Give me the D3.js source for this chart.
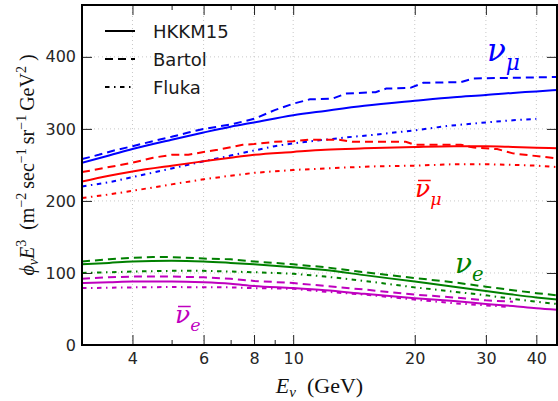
<!DOCTYPE html>
<html>
<head>
<meta charset="utf-8">
<script src="https://cdn.jsdelivr.net/npm/d3@7"></script>
<style>
  html, body { margin: 0; padding: 0; background: #fff; }
  svg { display: block; }
</style>
</head>
<body>
<svg id="chart" width="558" height="401"></svg>
<script>
// Atmospheric neutrino flux (E^3-weighted) versus neutrino energy,
// three flux models for each of four neutrino flavours.

const energies = {
  hkkm: [3, 3.5, 4, 5, 6, 7, 8, 10, 12, 15, 20, 25, 30, 35, 40, 45],
  fluka: [3, 3.5, 4, 5, 6, 7, 8, 9, 10, 12, 14, 16, 20, 24, 30, 35, 40]
};

// nu_mu (blue)
const numuHKKM = [253, 263, 272, 285, 295, 303, 309, 319, 325, 332, 339, 344, 347, 350, 352, 354];
const numuBartolE = [3, 3.3, 3.6, 4, 4.5, 5, 5.5, 6, 7, 8, 9, 10, 11, 12.5, 13.5, 16, 17, 19.5, 21, 26, 28, 45];
const numuBartol = [258, 264, 270, 276, 283, 289, 295, 300, 306, 314, 326, 335, 341, 342, 349, 351, 356, 357, 364, 365, 370, 372];
const numuFluka = [220, 226, 233, 245, 255, 263, 270, 276, 280, 285, 289, 292, 298, 304, 309, 312, 314];

// anti-nu_mu (red)
const anumuHKKM = [227, 235, 241, 249, 255, 260, 264, 268, 271, 273, 275, 276, 276, 275, 274, 273];
const anumuBartolE = [3, 3.5, 4, 4.5, 5, 5.5, 6, 6.5, 7.5, 8, 9, 10, 11, 13, 14, 16, 19, 20, 26, 28, 32, 35, 45];
const anumuBartol = [240, 247, 253, 260, 264, 264, 268, 271, 278, 279, 282, 283, 285, 285, 282, 282, 282, 278, 278, 274, 272, 266, 259];
const anumuFlukaE = [3, 3.5, 4, 5, 6, 7, 8, 10, 13, 16, 20, 25, 30, 35, 40, 45];
const anumuFluka = [204, 209, 214, 223, 230, 235, 239, 243, 246, 248, 249, 251, 251, 250, 249, 247];

// nu_e (green)
const nueHKKM = [112, 114, 116, 117, 116, 114, 112, 108, 104, 97, 88, 81, 75, 70, 66, 63];
const nueBartolE = [3, 3.5, 4, 4.5, 5, 6, 7, 8, 10, 12, 15, 20, 25, 30, 35, 40, 45];
const nueBartol = [116, 119, 121, 122, 122, 120, 119, 116, 112, 108, 101, 93, 87, 81, 76, 72, 69];
const nueFlukaE = [3, 3.5, 4, 5, 6, 7, 8, 10, 12, 15, 20, 25, 30, 35, 40, 45];
const nueFluka = [100, 101, 102, 103, 103, 102, 101, 99, 95, 89, 80, 74, 69, 64, 60, 57];

// anti-nu_e (magenta)
const anueHKKM = [86, 87, 88, 88, 87, 85, 82, 79, 76, 71, 65, 61, 57, 54, 51, 49];
const anueBartolE = [3, 3.5, 4, 5, 6, 7, 8, 10, 12, 15, 20, 25, 30, 35];
const anueBartol = [92, 94, 95, 95, 94, 92, 89, 86, 82, 77, 70, 66, 62, 60];
const anueFlukaE = [3, 4, 5, 6, 7, 8, 10, 12, 15, 20, 25, 30, 34];
const anueFluka = [79, 80, 80.5, 80, 80, 79, 78, 74, 70, 63, 58, 55, 53];

const xTicks = [4, 6, 8, 10, 20, 30, 40];
const xMinorTicks = [3, 5, 7, 9];
const yTicks = [0, 100, 200, 300, 400];
const models = ["HKKM15", "Bartol", "Fluka"];

const colors = { numu: "#0000ff", anumu: "#ff0000", nue: "#008000", anue: "#bf00bf" };
const dashes = { HKKM15: null, Bartol: "8,5", Fluka: "4.5,4.5,1.5,4.5" };

const series = [
  { flav: "numu", model: "HKKM15", e: energies.hkkm, v: numuHKKM },
  { flav: "numu", model: "Bartol", e: numuBartolE, v: numuBartol },
  { flav: "numu", model: "Fluka", e: energies.fluka, v: numuFluka },
  { flav: "anumu", model: "HKKM15", e: energies.hkkm, v: anumuHKKM },
  { flav: "anumu", model: "Bartol", e: anumuBartolE, v: anumuBartol },
  { flav: "anumu", model: "Fluka", e: anumuFlukaE, v: anumuFluka },
  { flav: "nue", model: "HKKM15", e: energies.hkkm, v: nueHKKM },
  { flav: "nue", model: "Bartol", e: nueBartolE, v: nueBartol },
  { flav: "nue", model: "Fluka", e: nueFlukaE, v: nueFluka },
  { flav: "anue", model: "HKKM15", e: energies.hkkm, v: anueHKKM },
  { flav: "anue", model: "Bartol", e: anueBartolE, v: anueBartol },
  { flav: "anue", model: "Fluka", e: anueFlukaE, v: anueFluka }
];

const W = 558, H = 401;
const margin = { left: 82, right: 1, top: 5, bottom: 56 };
const x0 = margin.left, x1 = W - margin.right, y0 = H - margin.bottom, y1 = margin.top;

const x = d3.scaleLog().domain([3, 45]).range([x0, x1]);
const y = d3.scaleLinear().domain([0, 472]).range([y0, y1]);

const svg = d3.select("#chart");

svg.append("defs").append("clipPath").attr("id", "plotclip")
  .append("rect").attr("x", x0).attr("y", y1).attr("width", x1 - x0).attr("height", y0 - y1);

// grid
const grid = svg.append("g").attr("stroke", "#c8c8c8").attr("stroke-width", 1).attr("stroke-dasharray", "1,3");
grid.selectAll("line.gx").data(xTicks).join("line")
  .attr("x1", d => x(d)).attr("x2", d => x(d)).attr("y1", y0).attr("y2", y1);
grid.selectAll("line.gy").data(yTicks).join("line")
  .attr("y1", d => y(d)).attr("y2", d => y(d)).attr("x1", x0).attr("x2", x1);

// curves
const line = d3.line().x(d => x(d[0])).y(d => y(d[1]));
const curves = svg.append("g").attr("clip-path", "url(#plotclip)");
series.forEach(s => {
  const pts = s.e.map((e, i) => [e, s.v[i]]);
  curves.append("path")
    .datum(pts)
    .attr("d", s.model === "HKKM15" ? line.curve(d3.curveMonotoneX)(pts) : line.curve(d3.curveLinear)(pts))
    .attr("fill", "none")
    .attr("stroke", colors[s.flav])
    .attr("stroke-width", 2)
    .attr("stroke-dasharray", dashes[s.model]);
});

// axes with inward ticks
const tickFont = "'DejaVu Sans', sans-serif";
const fmt = d3.format("d");
const axB = svg.append("g").attr("transform", `translate(0,${y0})`)
  .call(d3.axisBottom(x).tickValues(xTicks).tickFormat(fmt).tickSizeInner(-10).tickSizeOuter(0).tickPadding(8));
const axT = svg.append("g").attr("transform", `translate(0,${y1})`)
  .call(d3.axisTop(x).tickValues(xTicks).tickFormat("").tickSizeInner(-10).tickSizeOuter(0));
const axL = svg.append("g").attr("transform", `translate(${x0},0)`)
  .call(d3.axisLeft(y).tickValues(yTicks).tickFormat(fmt).tickSizeInner(-10).tickSizeOuter(0).tickPadding(6));
const axR = svg.append("g").attr("transform", `translate(${x1},0)`)
  .call(d3.axisRight(y).tickValues(yTicks).tickFormat("").tickSizeInner(-10).tickSizeOuter(0));
const mB = svg.append("g").attr("transform", `translate(0,${y0})`)
  .call(d3.axisBottom(x).tickValues(xMinorTicks).tickFormat("").tickSizeInner(-5).tickSizeOuter(0));
const mT = svg.append("g").attr("transform", `translate(0,${y1})`)
  .call(d3.axisTop(x).tickValues(xMinorTicks).tickFormat("").tickSizeInner(-5).tickSizeOuter(0));
[axB, axT, axL, axR, mB, mT].forEach(g => {
  g.select(".domain").remove();
  g.selectAll(".tick line").attr("stroke", "#222").attr("stroke-width", 1);
  g.selectAll(".tick text").attr("font-family", tickFont).attr("font-size", 16).attr("fill", "#262626");
});

// frame
svg.append("rect").attr("x", x0).attr("y", y1).attr("width", x1 - x0).attr("height", y0 - y1)
  .attr("fill", "none").attr("stroke", "#000").attr("stroke-width", 2);

// legend
const leg = svg.append("g");
models.forEach((m, i) => {
  const ly = 31 + i * 28;
  leg.append("line").attr("x1", 105).attr("x2", 135).attr("y1", ly).attr("y2", ly)
    .attr("stroke", "#000").attr("stroke-width", 2).attr("stroke-dasharray", dashes[m]);
  leg.append("text").attr("x", 153).attr("y", ly + 6.5).text(m)
    .attr("font-family", tickFont).attr("font-size", 18).attr("fill", "#1a1a1a");
});

// flavour labels (nu with subscript, optional overbar for antineutrinos)
const mathFont = "'DejaVu Serif', serif";
function flavLabel(px, py, size, color, sub, bar) {
  const t = svg.append("text").attr("x", px).attr("y", py)
    .attr("font-family", mathFont).attr("font-style", "italic").attr("font-size", size).attr("fill", color);
  t.append("tspan").text("\u03BD");
  t.append("tspan").attr("dy", size * 0.3).attr("font-size", size * 0.7).text(sub);
  if (bar) {
    const nuBox = t.node().getExtentOfChar(0);
    const by = py - size * 0.66;
    svg.append("line")
      .attr("x1", nuBox.x + size * 0.12).attr("x2", nuBox.x + nuBox.width + size * 0.02)
      .attr("y1", by).attr("y2", by)
      .attr("stroke", color).attr("stroke-width", Math.max(1.5, size * 0.06));
  }
}
flavLabel(487, 61, 31, colors.numu, "\u03BC", false);
flavLabel(415, 197, 25, colors.anumu, "\u03BC", true);
flavLabel(455, 273, 28, colors.nue, "e", false);
flavLabel(175, 323, 25, colors.anue, "e", true);

// x-axis label
const xl = svg.append("text").attr("x", (x0 + x1) / 2).attr("y", 393).attr("text-anchor", "middle")
  .attr("font-family", "'Liberation Serif', serif").attr("font-size", 22).attr("fill", "#111");
xl.append("tspan").attr("font-style", "italic").text("E");
xl.append("tspan").attr("font-style", "italic").attr("font-size", 15).attr("dy", 4).text("\u03BD");
xl.append("tspan").attr("dy", -4).text("\u2002(GeV)");

// y-axis label
const yl = svg.append("text").attr("transform", `translate(34,165) rotate(-90)`).attr("text-anchor", "middle")
  .attr("font-family", "'Liberation Serif', serif").attr("font-size", 20).attr("fill", "#111");
yl.append("tspan").attr("font-style", "italic").text("\u03D5");
yl.append("tspan").attr("font-style", "italic").attr("font-size", 14).attr("dy", 4).text("\u03BD");
yl.append("tspan").attr("font-style", "italic").attr("dy", -4).text("E");
yl.append("tspan").attr("font-size", 14).attr("dy", -8).text("3");
yl.append("tspan").attr("dy", 8).text("\u2002(m");
yl.append("tspan").attr("font-size", 14).attr("dy", -8).text("\u22122");
yl.append("tspan").attr("dy", 8).text("\u2009sec");
yl.append("tspan").attr("font-size", 14).attr("dy", -8).text("\u22121");
yl.append("tspan").attr("dy", 8).text("\u2009sr");
yl.append("tspan").attr("font-size", 14).attr("dy", -8).text("\u22121");
yl.append("tspan").attr("dy", 8).text("\u2009GeV");
yl.append("tspan").attr("font-size", 14).attr("dy", -8).text("2");
yl.append("tspan").attr("dy", 8).text(" )");
</script>
</body>
</html>
